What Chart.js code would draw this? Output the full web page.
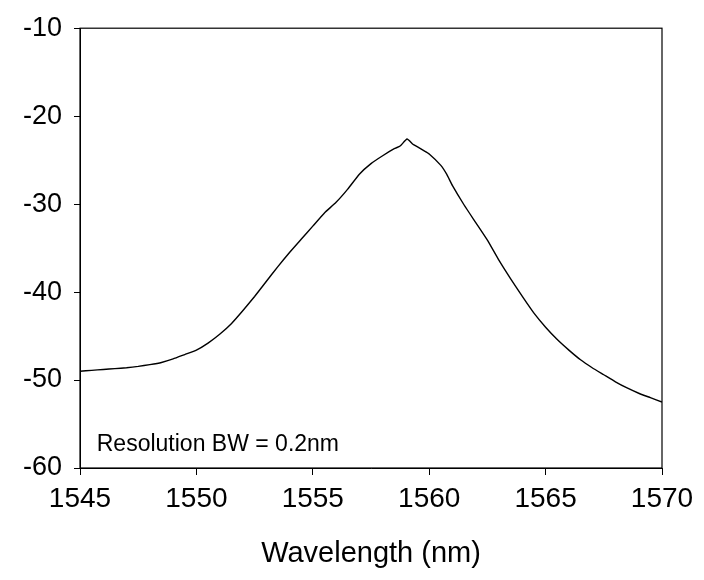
<!DOCTYPE html>
<html>
<head>
<meta charset="utf-8">
<script src="https://cdn.jsdelivr.net/npm/chart.js@4/dist/chart.umd.min.js"></script>
<style>
  html, body { margin: 0; padding: 0; background: #fff; }
  #wrap { width: 704px; height: 580px; }
</style>
</head>
<body>
<div id="wrap"><canvas id="spectrum" width="704" height="580"></canvas></div>
<script>
// nm and dBm
const wavelengths = [
  1545.0, 1545.5, 1546.0, 1546.5, 1547.0, 1547.5, 1548.0, 1548.5, 1549.0, 1549.5,
  1550.0, 1550.5, 1551.0, 1551.5, 1552.0, 1552.5, 1553.0, 1553.5, 1554.0, 1554.5,
  1555.0, 1555.5, 1556.0, 1556.5, 1557.0, 1557.5, 1558.0, 1558.5, 1558.75, 1559.05,
  1559.3, 1559.5, 1559.75, 1560.0, 1560.5, 1560.75, 1561.0, 1561.5, 1562.0, 1562.5,
  1563.0, 1563.5, 1564.0, 1564.5, 1565.0, 1565.5, 1566.0, 1566.5, 1567.0, 1567.5,
  1568.0, 1568.5, 1569.0, 1569.5, 1570.0
];
const power = [
  -49.0, -48.9, -48.8, -48.7, -48.6, -48.45, -48.25, -48.0, -47.6, -47.1,
  -46.6, -45.8, -44.8, -43.6, -42.1, -40.5, -38.8, -37.1, -35.5, -34.0,
  -32.5, -31.0, -29.8, -28.3, -26.6, -25.4, -24.5, -23.7, -23.4, -22.6,
  -23.2, -23.5, -23.9, -24.3, -25.6, -26.6, -27.9, -30.1, -32.1, -34.1,
  -36.4, -38.5, -40.5, -42.4, -44.0, -45.4, -46.6, -47.7, -48.6, -49.4,
  -50.2, -50.9, -51.5, -52.0, -52.5
];
const xTicks = [1545, 1550, 1555, 1560, 1565, 1570];
const yTicks = [-60, -50, -40, -30, -20, -10];
const xTitle = "Wavelength (nm)";
const noteText = "Resolution BW = 0.2nm";

const FONT = "'Liberation Sans', Arial, sans-serif";

// box round the plot + the resolution note
const framePlugin = {
  id: "frame",
  afterDatasetsDraw(chart) {
    const { ctx, chartArea: a, scales } = chart;
    ctx.save();
    ctx.strokeStyle = "#000";
    ctx.lineWidth = 1.2;
    ctx.strokeRect(a.left, a.top, a.right - a.left, a.bottom - a.top);
    ctx.fillStyle = "#000";
    ctx.font = "23px " + FONT;
    ctx.textBaseline = "middle";
    ctx.textAlign = "left";
    ctx.fillText(noteText, scales.x.getPixelForValue(1545.72), scales.y.getPixelForValue(-57.4));
    ctx.restore();
  }
};

const points = wavelengths.map((w, i) => ({ x: w, y: power[i] }));

new Chart(document.getElementById("spectrum"), {
  type: "line",
  data: {
    datasets: [{
      data: points,
      borderColor: "#000",
      borderWidth: 1.4,
      pointRadius: 0,
      tension: 0.15,
      fill: false
    }]
  },
  options: {
    responsive: false,
    animation: false,
    devicePixelRatio: 1,
    layout: { padding: { top: 20, right: 42, left: 0, bottom: 0 } },
    plugins: {
      legend: { display: false },
      tooltip: { enabled: false }
    },
    scales: {
      x: {
        type: "linear",
        min: 1545,
        max: 1570,
        afterBuildTicks: s => { s.ticks = xTicks.map(v => ({ value: v })); },
        afterFit: s => { s.height = 112; },
        grid: { drawOnChartArea: false, tickLength: 7, color: "#000" },
        border: { color: "#000", width: 1 },
        ticks: {
          color: "#000",
          font: { family: FONT, size: 28 },
          padding: 7,
          maxRotation: 0,
          callback: v => String(v)
        },
        title: {
          display: true, text: xTitle, color: "#000",
          font: { family: FONT, size: 29 },
          padding: { top: 4, bottom: 9 }
        }
      },
      y: {
        min: -60,
        max: -10,
        afterBuildTicks: s => { s.ticks = yTicks.map(v => ({ value: v })); },
        afterFit: s => { s.width = 80; },
        grid: { drawOnChartArea: false, tickLength: 6, color: "#000" },
        border: { color: "#000", width: 1 },
        ticks: { color: "#000", font: { family: FONT, size: 27 }, padding: 12, callback: v => String(v) }
      }
    }
  },
  plugins: [framePlugin]
});
</script>
</body>
</html>
